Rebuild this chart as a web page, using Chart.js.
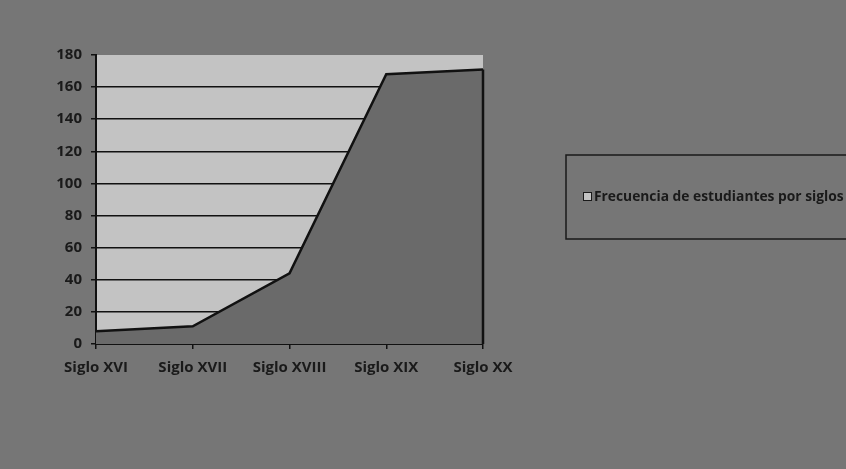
<!DOCTYPE html>
<html><head><meta charset="utf-8">
<script src="https://cdn.jsdelivr.net/npm/chart.js@4/dist/chart.umd.min.js"></script>
<style>html,body{margin:0;padding:0;background:#767676;}#wrap{width:846px;height:469px;}</style>
</head><body><div id="wrap"><canvas id="c" width="846" height="469"></canvas></div>
<script>
const categories = ["Siglo XVI", "Siglo XVII", "Siglo XVIII", "Siglo XIX", "Siglo XX"];
const seriesLabel = "Frecuencia de estudiantes por siglos";
const seriesValues = [8, 11, 44, 168, 171];
const yTicks = [0, 20, 40, 60, 80, 100, 120, 140, 160, 180];

const bgPlugin = {
  id: 'bg',
  beforeDraw(chart) {
    const {ctx, chartArea: a} = chart;
    ctx.save();
    ctx.fillStyle = '#767676';
    ctx.fillRect(0, 0, chart.width, chart.height);
    ctx.fillStyle = '#c3c3c3';
    ctx.fillRect(a.left, a.top, a.right - a.left, a.bottom - a.top);
    ctx.restore();
  },
  afterDatasetsDraw(chart) {
    const {ctx, chartArea: a} = chart;
    const meta = chart.getDatasetMeta(0);
    const last = meta.data[meta.data.length - 1];
    ctx.save();
    ctx.strokeStyle = '#111';
    ctx.lineWidth = 2.5;
    ctx.beginPath();
    ctx.moveTo(last.x, last.y);
    ctx.lineTo(last.x, a.bottom);
    ctx.stroke();
    ctx.restore();
  },
  afterDraw(chart) {
    const ctx = chart.ctx;
    ctx.save();
    ctx.strokeStyle = '#1a1a1a';
    ctx.lineWidth = 1.5;
    ctx.strokeRect(566, 155, 300, 84);
    ctx.fillStyle = '#c3c3c3';
    ctx.fillRect(583, 192, 9, 9);
    ctx.strokeStyle = '#1a1a1a';
    ctx.lineWidth = 1;
    ctx.strokeRect(583.5, 192.5, 8, 8);
    ctx.fillStyle = '#1a1a1a';
    ctx.font = 'bold 13.8px "Open Sans"';
    ctx.textBaseline = 'middle';
    ctx.fillText(chart.data.datasets[0].label, 594, 197);
    ctx.restore();
  }
};

const tickFont = { family: '"Open Sans"', weight: 'bold', size: 15 };

new Chart(document.getElementById('c'), {
  type: 'line',
  data: {
    labels: categories,
    datasets: [{
      label: seriesLabel,
      data: seriesValues,
      fill: 'origin',
      backgroundColor: '#6a6a6a',
      borderColor: '#111',
      borderWidth: 2.5,
      pointRadius: 0,
      tension: 0
    }]
  },
  options: {
    responsive: false,
    animation: false,
    devicePixelRatio: 1,
    layout: { padding: { left: 0, right: 363, top: 55, bottom: 0 } },
    plugins: { legend: { display: false }, tooltip: { enabled: false } },
    scales: {
      x: {
        offset: false,
        afterFit(s) { s.height = 125; },
        grid: { drawOnChartArea: false, drawTicks: true, tickLength: 5, color: '#111', lineWidth: 1.5 },
        border: { color: '#111', width: 2 },
        ticks: { color: '#1a1a1a', font: tickFont, padding: 10, maxRotation: 0, autoSkip: false }
      },
      y: {
        min: 0, max: 180,
        afterFit(s) { s.width = 96; },
        afterBuildTicks(s) { s.ticks = yTicks.map(v => ({ value: v })); },
        grid: {
          color: (c) => c.tick && c.tick.value === 180 ? 'rgba(0,0,0,0)' : '#111',
          tickColor: '#111',
          lineWidth: 1.5,
          tickLength: 5
        },
        border: { color: '#111', width: 2 },
        ticks: { color: '#1a1a1a', font: tickFont, padding: 9 }
      }
    }
  },
  plugins: [bgPlugin]
});
</script></body></html>
